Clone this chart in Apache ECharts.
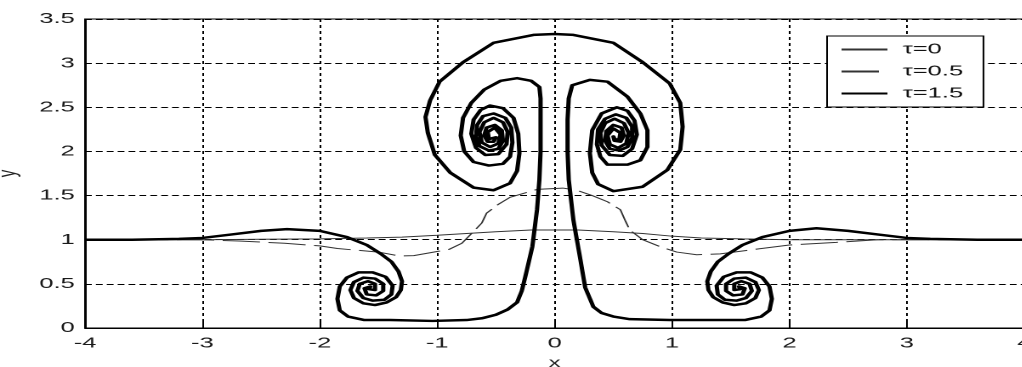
<!DOCTYPE html>
<html>
<head>
<meta charset="utf-8">
<script src="https://cdn.jsdelivr.net/npm/echarts@6/dist/echarts.min.js"></script>
<style>
  html, body { margin: 0; padding: 0; background: #fff; overflow: hidden; width: 1022px; height: 367px; }
  /* the figure is drawn at a narrower width and stretched horizontally */
  #chart { width: 605px; height: 367px; transform: scaleX(1.7); transform-origin: 0 0; }
</style>
</head>
<body>
<div id="chart"></div>
<script>
// ---- axis ticks ----
const xTicks = [-4, -3, -2, -1, 0, 1, 2, 3, 4];
const yTicks = [0, 0.5, 1, 1.5, 2, 2.5, 3, 3.5];

// ---- interface at tau = 0 : [x, y] ----
const tau0 = [
  [-4, 1.0], [-3, 1.0], [-2.5, 1.005], [-2, 1.01], [-1.6, 1.02], [-1.3, 1.03], [-1, 1.05],
  [-0.75, 1.07], [-0.5, 1.09], [-0.2, 1.11], [0, 1.11], [0.2, 1.11], [0.5, 1.09],
  [0.75, 1.07], [1, 1.04], [1.25, 1.02], [1.6, 1.01], [2, 1.0], [3, 1.0], [4, 1.0]
];

// ---- interface at tau = 0.5 ----
const tau05 = [
  [-4, 1.0], [-3, 1.0], [-2.69, 0.985], [-2.3, 0.96], [-2, 0.93], [-1.85, 0.9], [-1.5, 0.86],
  [-1.32, 0.815], [-1.2, 0.82], [-0.9, 0.89], [-0.79, 0.96], [-0.7, 1.08], [-0.62, 1.19],
  [-0.58, 1.3], [-0.48, 1.4], [-0.38, 1.48], [-0.15, 1.57], [0.07, 1.585], [0.19, 1.56],
  [0.32, 1.5], [0.45, 1.43], [0.56, 1.34], [0.6, 1.22], [0.64, 1.11], [0.75, 1.0],
  [0.9, 0.92], [1.04, 0.86], [1.21, 0.83], [1.41, 0.84], [1.7, 0.89], [2.0, 0.94],
  [2.4, 0.97], [2.75, 1.0], [3, 1.0], [4, 1.0]
];

// ---- interface at tau = 1.5, traced from x = -4 to x = 4 in pieces ----
// left crest winding into the lower-left roll-up
const leftCrest = [
  [-4.0, 1.0], [-3.6, 1.0], [-3.2, 1.01], [-3.0, 1.02], [-2.75, 1.06], [-2.5, 1.1], [-2.28, 1.12],
  [-2.0, 1.1], [-1.77, 1.03], [-1.6, 0.94], [-1.48, 0.84], [-1.39, 0.75], [-1.33, 0.64],
  [-1.3, 0.53], [-1.31, 0.43], [-1.35, 0.35], [-1.43, 0.29], [-1.53, 0.26], [-1.63, 0.28],
  [-1.71, 0.34], [-1.74, 0.43], [-1.71, 0.52], [-1.63, 0.57], [-1.53, 0.56], [-1.46, 0.5],
  [-1.46, 0.42], [-1.52, 0.37], [-1.6, 0.38], [-1.62, 0.45], [-1.57, 0.47]
];
// out of the lower-left roll-up along the floor to the left stem
const leftFloor = [
  [-1.58, 0.44], [-1.53, 0.43], [-1.53, 0.5], [-1.59, 0.53], [-1.66, 0.5],
  [-1.68, 0.42], [-1.63, 0.34], [-1.55, 0.31], [-1.45, 0.32], [-1.39, 0.38], [-1.38, 0.48],
  [-1.44, 0.58], [-1.55, 0.63], [-1.67, 0.63], [-1.77, 0.57], [-1.83, 0.47], [-1.85, 0.33],
  [-1.83, 0.2], [-1.76, 0.13], [-1.62, 0.09], [-1.4, 0.09], [-1.04, 0.08], [-0.75, 0.09],
  [-0.62, 0.11], [-0.5, 0.15], [-0.4, 0.21], [-0.32, 0.29]
];
// left stem rising to the cap
const leftStem = [
  [-0.28, 0.42], [-0.25, 0.58], [-0.19, 0.92], [-0.15, 1.34], [-0.13, 1.68], [-0.12, 2.0],
  [-0.12, 2.36], [-0.12, 2.6], [-0.13, 2.73]
];
// inner arm of the upper-left vortex
const leftVortexIn = [
  [-0.2, 2.8], [-0.32, 2.83], [-0.46, 2.8], [-0.6, 2.7], [-0.71, 2.55], [-0.78, 2.38],
  [-0.8, 2.18], [-0.77, 2.0], [-0.69, 1.88], [-0.56, 1.84], [-0.44, 1.86], [-0.38, 1.94],
  [-0.36, 2.1], [-0.37, 2.27], [-0.42, 2.38], [-0.52, 2.43], [-0.61, 2.4], [-0.66, 2.3],
  [-0.67, 2.17], [-0.64, 2.06], [-0.56, 2.01], [-0.48, 2.03], [-0.44, 2.12], [-0.45, 2.24],
  [-0.51, 2.3], [-0.58, 2.27], [-0.6, 2.18], [-0.57, 2.11], [-0.52, 2.11], [-0.5, 2.16]
];
// outer arm of the upper-left vortex, out to the top of the cap
const leftVortexOut = [
  [-0.52, 2.15], [-0.56, 2.14], [-0.57, 2.22], [-0.51, 2.27], [-0.46, 2.19], [-0.48, 2.09],
  [-0.55, 2.05], [-0.62, 2.1], [-0.64, 2.22], [-0.6, 2.33], [-0.52, 2.38], [-0.44, 2.33],
  [-0.4, 2.22], [-0.41, 2.08], [-0.48, 1.97], [-0.59, 1.96], [-0.67, 2.04], [-0.71, 2.2],
  [-0.69, 2.36], [-0.63, 2.47], [-0.55, 2.52], [-0.44, 2.49], [-0.35, 2.38], [-0.31, 2.2],
  [-0.3, 1.98], [-0.32, 1.78], [-0.38, 1.64], [-0.52, 1.56], [-0.69, 1.59], [-0.89, 1.76],
  [-1.02, 1.96], [-1.08, 2.21], [-1.1, 2.39], [-1.06, 2.58], [-0.98, 2.79], [-0.78, 3.01],
  [-0.52, 3.23], [-0.18, 3.32], [0.0, 3.33]
];
// cap into the upper-right vortex (outer arm)
const rightVortexIn = [
  [0.16, 3.32], [0.5, 3.23], [0.75, 3.01], [0.98, 2.77], [1.07, 2.55], [1.09, 2.28],
  [1.07, 2.02], [0.96, 1.79], [0.75, 1.6], [0.5, 1.55], [0.37, 1.63], [0.32, 1.76],
  [0.3, 1.98], [0.32, 2.24], [0.4, 2.43], [0.53, 2.5], [0.62, 2.46], [0.68, 2.35],
  [0.7, 2.19], [0.66, 2.03], [0.58, 1.95], [0.47, 1.96], [0.4, 2.07], [0.39, 2.21],
  [0.43, 2.32], [0.51, 2.37], [0.59, 2.32], [0.63, 2.21], [0.61, 2.09], [0.54, 2.04],
  [0.47, 2.08], [0.45, 2.18], [0.5, 2.26], [0.56, 2.21], [0.55, 2.13], [0.51, 2.14]
];
// inner arm of the upper-right vortex, out to the right stem
const rightVortexOut = [
  [0.5, 2.17], [0.51, 2.12], [0.56, 2.11], [0.59, 2.18], [0.57, 2.27], [0.5, 2.3],
  [0.44, 2.23], [0.43, 2.12], [0.47, 2.03], [0.55, 2.01], [0.62, 2.05], [0.66, 2.15],
  [0.66, 2.28], [0.61, 2.38], [0.52, 2.42], [0.43, 2.37], [0.37, 2.25], [0.36, 2.08],
  [0.39, 1.94], [0.45, 1.85], [0.62, 1.85], [0.73, 1.9], [0.79, 2.05], [0.79, 2.24],
  [0.73, 2.43], [0.62, 2.62], [0.45, 2.79], [0.3, 2.81], [0.15, 2.75]
];
// right stem falling to the floor
const rightStem = [
  [0.12, 2.6], [0.11, 2.36], [0.11, 2.0], [0.12, 1.68], [0.16, 1.22], [0.22, 0.77],
  [0.26, 0.46], [0.33, 0.24]
];
// along the floor into the lower-right roll-up
const rightFloor = [
  [0.4, 0.17], [0.5, 0.13], [0.64, 0.1], [0.98, 0.09], [1.4, 0.09], [1.62, 0.09],
  [1.76, 0.13], [1.83, 0.2], [1.85, 0.33], [1.83, 0.47], [1.77, 0.57], [1.67, 0.63],
  [1.55, 0.63], [1.44, 0.58], [1.38, 0.48], [1.39, 0.38], [1.45, 0.32], [1.55, 0.31],
  [1.63, 0.34], [1.68, 0.42], [1.66, 0.5], [1.59, 0.53], [1.53, 0.5], [1.53, 0.43],
  [1.58, 0.44]
];
// out of the lower-right roll-up over the right crest to x = 4
const rightCrest = [
  [1.57, 0.47], [1.62, 0.45], [1.6, 0.38], [1.52, 0.37],
  [1.46, 0.42], [1.46, 0.5], [1.53, 0.56], [1.63, 0.57], [1.71, 0.52], [1.74, 0.43],
  [1.71, 0.34], [1.63, 0.28], [1.53, 0.26], [1.43, 0.29], [1.35, 0.35], [1.31, 0.43],
  [1.3, 0.53], [1.33, 0.64], [1.39, 0.75], [1.48, 0.84], [1.6, 0.94], [1.77, 1.03],
  [2.0, 1.1], [2.23, 1.13], [2.5, 1.1], [2.75, 1.06], [3.0, 1.02], [3.2, 1.01],
  [3.6, 1.0], [4.0, 1.0]
];

const tau15 = [].concat(
  leftCrest, leftFloor, leftStem, leftVortexIn, leftVortexOut,
  rightVortexIn, rightVortexOut, rightStem, rightFloor, rightCrest
);

const seriesNames = ['\u03c4=0', '\u03c4=0.5', '\u03c4=1.5'];

const FONT = '"Liberation Sans", Arial, sans-serif';

const chart = echarts.init(document.getElementById('chart'), null, { renderer: 'canvas', devicePixelRatio: 2 });

chart.setOption({
  animation: false,
  backgroundColor: '#ffffff',
  grid: {
    left: 50, right: 2.5, top: 19, bottom: 39,
    outerBoundsMode: 'none', containLabel: false,
    show: true, borderColor: '#000', borderWidth: 1, backgroundColor: 'transparent'
  },
  xAxis: {
    type: 'value',
    min: xTicks[0], max: xTicks[xTicks.length - 1], interval: 1,
    name: 'x', nameLocation: 'middle', nameGap: 25,
    nameTextStyle: { fontFamily: FONT, fontSize: 14, color: '#222' },
    axisLine: { show: true, onZero: false, lineStyle: { color: '#000', width: 1 } },
    axisTick: { show: true, inside: true, length: 8, lineStyle: { color: '#000' } },
    axisLabel: { margin: 8, fontFamily: FONT, fontSize: 15, color: '#1a1a1a',
      formatter: v => xTicks.indexOf(v) >= 0 ? String(v) : '' },
    splitLine: { show: true, lineStyle: { color: '#000', width: 1, type: [3, 3] } }
  },
  yAxis: {
    type: 'value',
    min: yTicks[0], max: yTicks[yTicks.length - 1], interval: 0.5,
    name: 'y', nameLocation: 'middle', nameGap: 32, nameRotate: 90,
    nameTextStyle: { fontFamily: FONT, fontSize: 15, color: '#222' },
    axisLine: { show: true, onZero: false, lineStyle: { color: '#000', width: 1 } },
    axisTick: { show: true, inside: true, length: 3, lineStyle: { color: '#000' } },
    axisLabel: { margin: 6, fontFamily: FONT, fontSize: 15, color: '#1a1a1a',
      formatter: v => yTicks.indexOf(v) >= 0 ? String(v) : '' },
    splitLine: { show: true, lineStyle: { color: '#000', width: 1, type: [4, 2.4] } }
  },
  legend: {
    orient: 'vertical',
    left: 486.5, top: 36,
    padding: [6, 12, 6, 7.5],
    itemWidth: 27, itemHeight: 14, itemGap: 7,
    borderColor: '#000', borderWidth: 1, backgroundColor: '#fff', borderRadius: 0,
    // line samples only, no marker dot
    itemStyle: { color: 'rgba(0,0,0,0)', borderWidth: 0, opacity: 0 },
    textStyle: { fontFamily: FONT, fontSize: 15, color: '#111', lineHeight: 14, padding: [0, 0, 0, 4] },
    data: seriesNames
  },
  series: [
    {
      name: seriesNames[0], type: 'line', data: tau0, symbol: 'none', showSymbol: false,
      itemStyle: { color: '#333' },
      lineStyle: { color: '#333', width: 1 }, z: 3
    },
    {
      name: seriesNames[1], type: 'line', data: tau05, symbol: 'none', showSymbol: false,
      itemStyle: { color: '#333' },
      lineStyle: { color: '#333', width: 1, type: [22, 5] }, z: 3
    },
    {
      name: seriesNames[2], type: 'line', data: tau15, symbol: 'none', showSymbol: false,
      itemStyle: { color: '#000' },
      lineStyle: { color: '#000', width: 2.5, join: 'round' }, z: 4
    }
  ]
});
</script>
</body>
</html>
